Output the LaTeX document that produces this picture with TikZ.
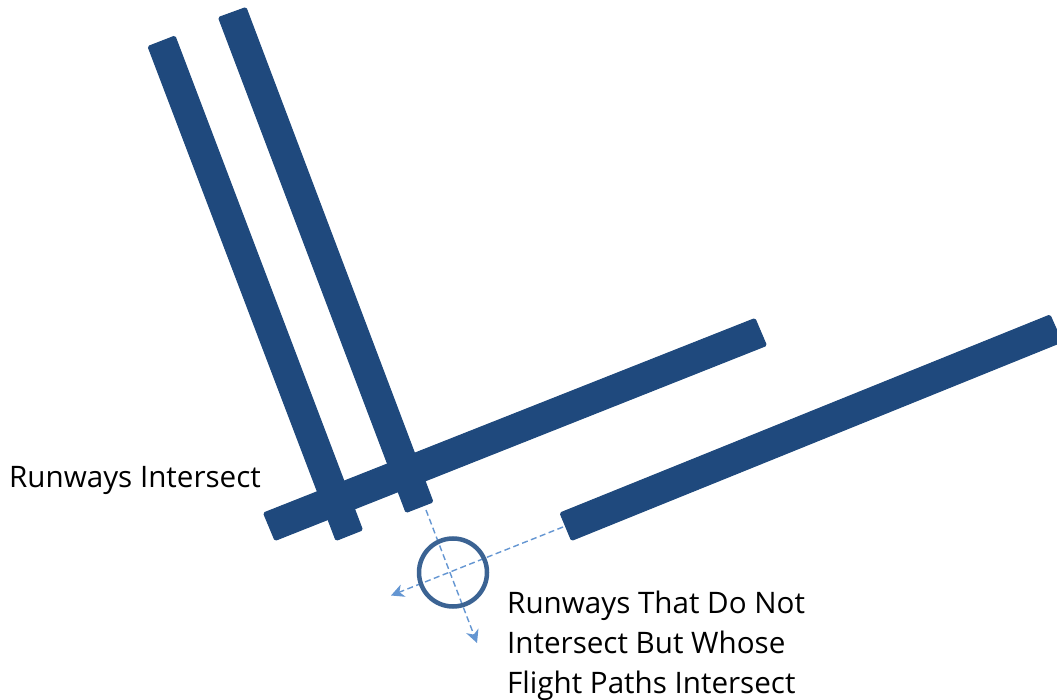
\documentclass[tikz,border=0pt]{standalone}
\usepackage{fontspec}
\setmainfont{Open Sans}
\usetikzlibrary{arrows.meta}
\definecolor{runwayblue}{HTML}{1F497D}
\definecolor{ringblue}{HTML}{3B6393}
\definecolor{flightblue}{HTML}{6496D2}
\tikzset{
  runway/.style={fill=runwayblue,draw=runwayblue,line width=1pt,rounded corners=1.5pt},
  ring/.style={circle,draw=ringblue,line width=4.5pt,minimum size=68pt,inner sep=0pt},
  flightpath/.style={draw=flightblue,line width=1.4pt,dash pattern=on 6pt off 3.5pt,-{Stealth[length=13pt,width=13pt,inset=4pt]}},
  label/.style={anchor=base west,inner sep=0pt,align=left,font=\fontsize{29.6pt}{40pt}\selectfont,text=black}
}
\begin{document}
\begin{tikzpicture}[x=1pt,y=-1pt]
\useasboundingbox (0,0) rectangle (1057,700);
\clip (0,0) rectangle (1057,700);
\fill[white] (0,0) rectangle (1057,700);
% runways
\draw[runway] (148,46.5) -- (175,36) -- (362.5,530) -- (336,540.5) -- cycle;
\draw[runway] (218.5,17.5) -- (246,7.5) -- (433,502) -- (406,512.5) -- cycle;
\draw[runway] (263.5,513) -- (755,318.5) -- (766.5,345.5) -- (275,540.5) -- cycle;
\draw[runway] (560,513) -- (1050,315) -- (1062,342) -- (571.5,540.5) -- cycle;
% ends of the flight paths
\coordinate (endB) at (426,510);
\coordinate (tipB) at (477,643);
\coordinate (endD) at (563,527);
\coordinate (tipD) at (391,595.5);
\draw[flightpath] (endB) -- (tipB);
\draw[flightpath] (endD) -- (tipD);
\node[ring] (crossing) at (453,572.5) {};
\node[label] (lblA) at (9,487) {Runways Intersect};
\node[label,anchor=north west] (lblB) at (507,590.5) {Runways That Do Not\\Intersect But Whose\\Flight Paths Intersect};
\end{tikzpicture}
\end{document}
